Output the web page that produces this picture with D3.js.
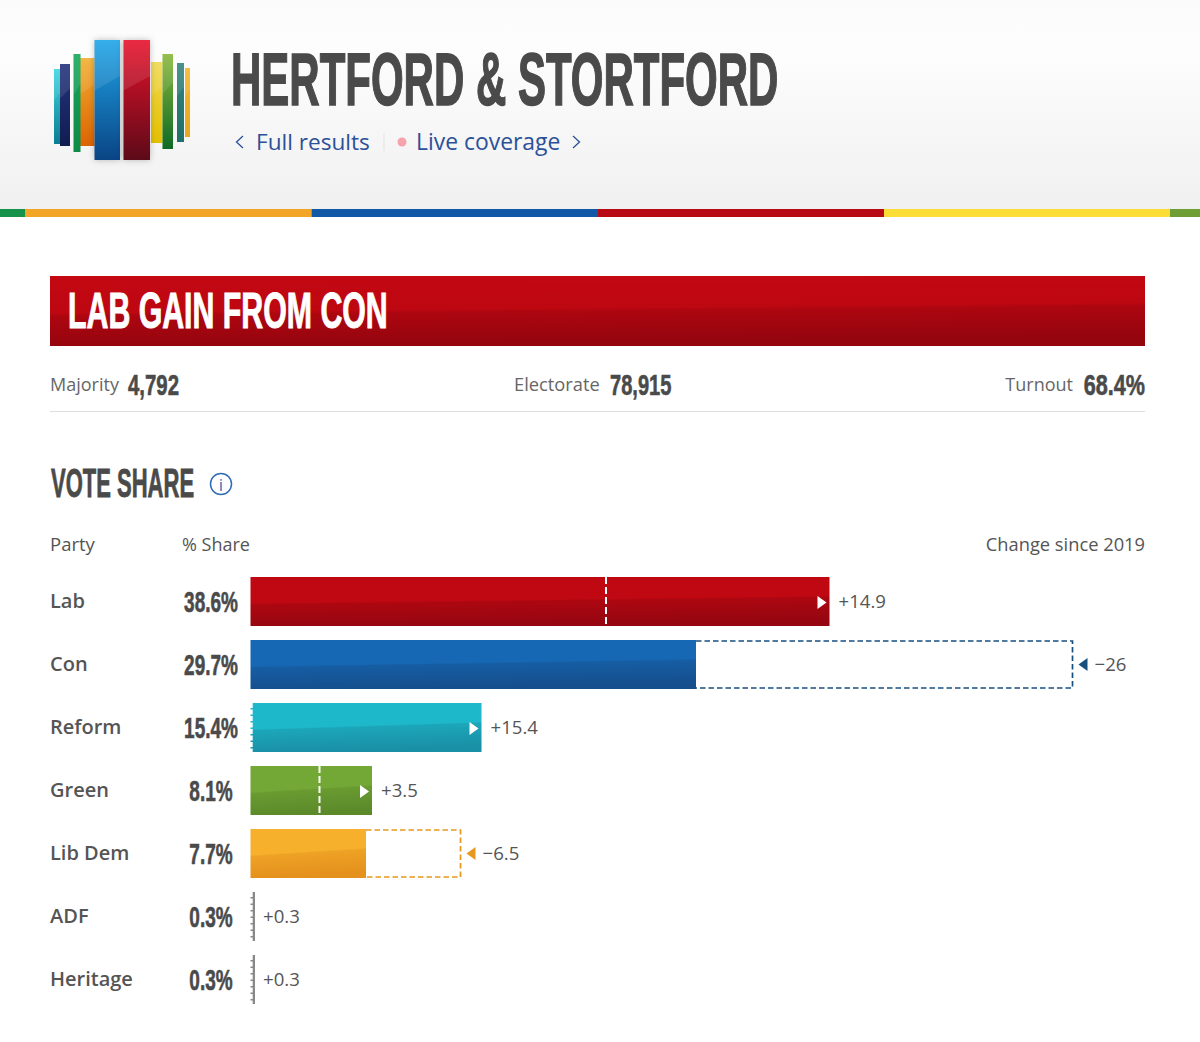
<!DOCTYPE html>
<html>
<head>
    <meta charset="utf-8">
    <title>Hertford & Stortford</title>
    <script src="https://d3js.org/d3.v7.min.js"></script>
    <style>
        html, body { margin: 0; padding: 0; background: #fff; }
        svg { display: block; }
        text { font-family: "Open Sans", "Lato", sans-serif; }
        .cond { font-family: "Liberation Sans Narrow", "Liberation Sans", sans-serif; font-weight: 700; fill: #4a4a4a; stroke: #4a4a4a; }
        .big { filter: drop-shadow(0 0 3px rgba(0,0,0,0.25)); }
    </style>
</head>

<body>
<script type="text/javascript">
    // values
    const parties = ["Lab", "Con", "Reform", "Green", "Lib Dem", "ADF", "Heritage"];
    const shares = [38.6, 29.7, 15.4, 8.1, 7.7, 0.3, 0.3];
    const changes = ["+14.9", "−26", "+15.4", "+3.5", "−6.5", "+0.3", "+0.3"];
    // where the 2019 marker sits in the picture
    const previous = [23.7, 54.8, 0, 4.6, 14, 0, 0];
    const topColours = ["#c00812", "#1668b4", "#1eb8cb", "#73a836", "#f6b02c", "#888888", "#888888"];
    const lowColours = ["#960610", "#154f8e", "#1a90a6", "#5c8a2a", "#e4911d", "#888888", "#888888"];
    const lineColours = ["#ffffff", "#174f80", "#ffffff", "#ffffff", "#e8981f", "#ffffff", "#ffffff"];

    const stats = [["Majority", "4,792"], ["Electorate", "78,915"], ["Turnout", "68.4%"]];

    const stripNames = ["green", "orange", "blue", "red", "yellow", "lime"];
    const stripEnds = [25, 311.5, 598, 884, 1170, 1200];
    const stripColours = ["#16934a", "#f2a526", "#1158a6", "#b80a14", "#fbdd35", "#6f9e34"];

    const logoLeft = [54, 60, 78.5, 73.5, 94.5, 123.5, 151, 162.5, 177, 185];
    const logoRight = [61, 70, 94.5, 80.5, 120, 150, 162.5, 173, 184, 190];
    const logoTop = [69, 64, 58, 54, 40, 40, 62, 54, 63, 68];
    const logoBottom = [144, 146, 146, 152, 160, 160, 143, 149, 142, 137];
    const logoLight = ["#3fd6e0", "#24347e", "#f2b030", "#18a85a", "#1fa6e8", "#e8122c", "#f0d850", "#8ab83a", "#36847e", "#f4b62c"];
    const logoDark = ["#0c7c92", "#111c50", "#dc6404", "#0e8a48", "#0a4484", "#5c0a18", "#e4c000", "#0e6a26", "#20706a", "#eaa81c"];

    const svg = d3.select("body").append("svg").attr("width", 1200).attr("height", 1042);
    const defs = svg.append("defs");

    // slope tips the bands of the gradient up towards the right
    function vGrad(id, stops, slope) {
        const g = defs.append("linearGradient").attr("id", id)
            .attr("x1", 0).attr("y1", 0).attr("x2", slope || 0).attr("y2", 1);
        stops.forEach(function (s) {
            g.append("stop").attr("offset", s[0]).attr("stop-color", s[1]);
        });
    }

    // condensed headline face, squeezed sideways to get near the original font
    function cond(text, x, y, size, squeeze, anchor) {
        return svg.append("text").attr("class", "cond")
            .attr("transform", "translate(" + x + "," + y + ") scale(" + squeeze + ",1)")
            .attr("font-size", size)
            .attr("stroke-width", size * 0.02)
            .attr("text-anchor", anchor || "start")
            .text(text);
    }

    function plain(text, x, y, size, colour, anchor) {
        return svg.append("text")
            .attr("x", x).attr("y", y)
            .attr("font-size", size)
            .attr("fill", colour)
            .attr("text-anchor", anchor || "start")
            .text(text);
    }

    // header
    vGrad("headBg", [[0, "#fbfbfb"], [0.25, "#fdfdfd"], [1, "#f0f0f1"]]);
    svg.append("rect").attr("width", 1200).attr("height", 209).attr("fill", "url(#headBg)");

    logoLeft.forEach(function (d, i) {
        vGrad("logo" + i, [[0, logoLight[i]], [1, logoDark[i]]]);
    });
    const logo = svg.selectAll("g.logo")
        .data(logoLeft)
        .enter().append("g")
        .attr("class", function (d, i) { return i == 4 || i == 5 ? "logo big" : "logo"; });
    logo.append("rect")
        .attr("x", function (d) { return d; })
        .attr("y", function (d, i) { return logoTop[i]; })
        .attr("width", function (d, i) { return logoRight[i] - d; })
        .attr("height", function (d, i) { return logoBottom[i] - logoTop[i]; })
        .attr("fill", function (d, i) { return "url(#logo" + i + ")"; });
    // diagonal sheen across the top of each bar
    logo.append("path")
        .attr("d", function (d, i) {
            const h = logoBottom[i] - logoTop[i];
            return "M" + d + "," + logoTop[i] + " H" + logoRight[i] + " V" + (logoTop[i] + h * 0.3) + " L" + d + "," + (logoTop[i] + h * 0.42) + " Z";
        })
        .attr("fill", "#fff").attr("opacity", 0.1);
    // big bars go on top of the side ones
    logo.filter(function (d, i) { return i == 4 || i == 5; }).raise();

    cond("HERTFORD & STORTFORD", 231, 105, 75, 0.56);

    const linkBlue = "#2b5199";
    svg.append("path").attr("d", "M243,136 L236.5,142 L243,148").attr("fill", "none").attr("stroke", linkBlue).attr("stroke-width", 1.3);
    plain("Full results", 256, 150, 22.6, linkBlue).attr("font-weight", 500);
    svg.append("line").attr("x1", 384).attr("x2", 384).attr("y1", 133).attr("y2", 151).attr("stroke", "#e3e3e3");
    svg.append("circle").attr("cx", 402).attr("cy", 142).attr("r", 4.5).attr("fill", "#f5a3ad");
    plain("Live coverage", 416, 150, 22.9, linkBlue).attr("font-weight", 500);
    svg.append("path").attr("d", "M573,136 L579.5,142 L573,148").attr("fill", "none").attr("stroke", linkBlue).attr("stroke-width", 1.3);

    // colour strip under the header
    svg.selectAll("rect.strip")
        .data(stripNames)
        .enter().append("rect")
        .attr("class", "strip")
        .attr("x", function (d, i) { return i ? stripEnds[i - 1] : 0; })
        .attr("y", 209)
        .attr("width", function (d, i) { return stripEnds[i] - (i ? stripEnds[i - 1] : 0); })
        .attr("height", 8)
        .attr("fill", function (d, i) { return stripColours[i]; });

    // result banner
    vGrad("bannerBg", [[0, "#c40812"], [0.52, "#bd0711"], [0.56, "#ad0610"], [1, "#94050e"]], 0.15);
    svg.append("rect").attr("x", 50).attr("y", 276).attr("width", 1095).attr("height", 70).attr("fill", "url(#bannerBg)");
    cond("LAB GAIN FROM CON", 68, 328, 50, 0.606).style("fill", "#fff").style("stroke", "#fff");

    // stats row
    plain(stats[0][0], 50, 391, 18, "#666");
    cond(stats[0][1], 128, 394.5, 30, 0.68);
    plain(stats[1][0], 514, 391, 18.3, "#666");
    cond(stats[1][1], 610, 394.5, 30, 0.67);
    plain(stats[2][0], 1073, 391, 18, "#666", "end");
    cond(stats[2][1], 1145, 394.5, 30, 0.72, "end");
    svg.append("line").attr("x1", 50).attr("x2", 1145).attr("y1", 411.5).attr("y2", 411.5).attr("stroke", "#dedede");

    // vote share
    cond("VOTE SHARE", 51, 497, 41, 0.537);
    svg.append("circle").attr("cx", 221).attr("cy", 484).attr("r", 10.5)
        .attr("fill", "none").attr("stroke", "#2f6db5").attr("stroke-width", 1.5);
    plain("i", 221, 491, 17, "#2f6db5", "middle");

    plain("Party", 50, 551, 18.5, "#555");
    plain("% Share", 182, 551, 18, "#555");
    plain("Change since 2019", 1145, 551, 18.3, "#555", "end");

    const x = d3.scaleLinear().domain([0, 60]).range([250.5, 1150.5]);
    const y = d3.scaleBand().domain(parties).range([577, 1004]).paddingInner(14 / 63);
    const bh = y.bandwidth();

    parties.forEach(function (p, i) {
        vGrad("bar" + i, [[0, topColours[i]], [0.52, topColours[i]], [0.55, d3.interpolateRgb(topColours[i], lowColours[i])(0.45)], [1, lowColours[i]]], 0.15);
    });

    const rows = svg.selectAll("g.row")
        .data(parties)
        .enter().append("g")
        .attr("class", "row")
        .attr("transform", function (d) { return "translate(0," + y(d) + ")"; });

    rows.append("text")
        .attr("x", 50).attr("y", 31)
        .attr("font-size", 20).attr("font-weight", 600).attr("fill", "#555")
        .text(function (d) { return d; });

    rows.append("text")
        .attr("class", "cond")
        .attr("transform", "translate(211,34.5) scale(0.655,1)")
        .attr("font-size", 29).attr("stroke-width", 0.6).attr("text-anchor", "middle")
        .text(function (d, i) { return shares[i] + "%"; });

    rows.append("rect")
        .attr("x", x(0))
        .attr("width", function (d, i) { return x(shares[i]) - x(0); })
        .attr("height", bh)
        .attr("fill", function (d, i) { return "url(#bar" + i + ")"; });

    // what was lost: dashed box out to the 2019 share
    rows.filter(function (d, i) { return previous[i] > shares[i]; })
        .append("path")
        .attr("d", function (d) {
            const i = parties.indexOf(d);
            const a = x(shares[i]), b = x(previous[i]);
            return "M" + a + ",1 H" + b + " V" + (bh - 1) + " H" + a;
        })
        .attr("fill", "none")
        .attr("stroke", function (d) { return lineColours[parties.indexOf(d)]; })
        .attr("stroke-width", 1.7)
        .attr("stroke-dasharray", "5.5 3");

    // what was gained: white dashed marker at the 2019 share
    rows.filter(function (d, i) { return previous[i] < shares[i]; })
        .append("line")
        .attr("x1", function (d) { return x(previous[parties.indexOf(d)]) + (previous[parties.indexOf(d)] == 0 ? 0.7 : 0); })
        .attr("x2", function (d) { return x(previous[parties.indexOf(d)]) + (previous[parties.indexOf(d)] == 0 ? 0.7 : 0); })
        .attr("y1", 0).attr("y2", bh)
        .attr("stroke", "#fff")
        .attr("stroke-width", function (d) { return previous[parties.indexOf(d)] == 0 ? 3 : 2; })
        .attr("stroke-dasharray", function (d) { return previous[parties.indexOf(d)] == 0 ? "5 1.5" : "7 3"; });

    // arrows, white inside the bar going up, coloured outside going down
    rows.append("path")
        .filter(function (d, i) { return shares[i] > 1; })
        .attr("d", function (d) {
            const i = parties.indexOf(d);
            if (previous[i] < shares[i]) {
                const e = x(shares[i]) - 3;
                return "M" + (e - 9) + ",19 L" + e + ",25.5 L" + (e - 9) + ",32 Z";
            }
            const s = x(previous[i]) + 6;
            return "M" + s + ",24.5 L" + (s + 9) + ",18 L" + (s + 9) + ",31 Z";
        })
        .attr("fill", function (d, i) { return previous[i] < shares[i] ? "#fff" : lineColours[i]; });

    rows.append("text")
        .attr("x", function (d, i) {
            if (previous[i] > shares[i]) return x(previous[i]) + 22;
            return x(shares[i]) + (shares[i] < 1 ? 8 : 9);
        })
        .attr("y", 31)
        .attr("font-size", 18.6).attr("fill", "#555")
        .text(function (d, i) { return changes[i]; });
</script>
</body>
</html>
